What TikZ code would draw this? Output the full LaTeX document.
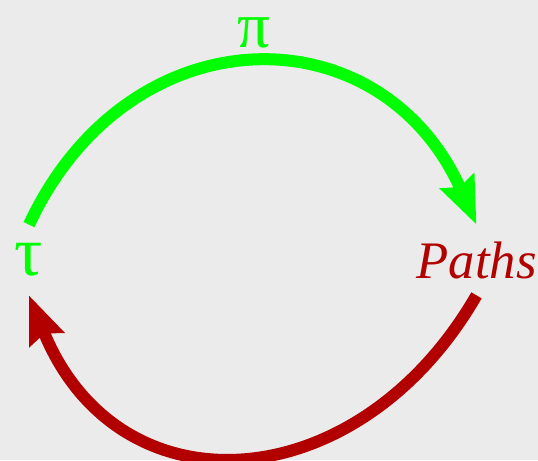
\documentclass[tikz,border=0pt]{standalone}
\usepackage{fontspec}
\setmainfont{Liberation Serif}
\usetikzlibrary{arrows.meta}
\definecolor{bggrey}{RGB}{235,235,235}
\definecolor{pigreen}{RGB}{0,255,0}
\definecolor{pathred}{RGB}{178,0,0}
\begin{document}
\begin{tikzpicture}[
  lbl/.style={inner sep=0pt,minimum height=1.4cm,font=\fontsize{30}{30}\selectfont},
  greek/.style={lbl,text=pigreen,font=\fontsize{40}{40}\selectfont},
  arc/.style={line width=0.24cm,-{Stealth[length=0.94cm,width=0.72cm,inset=0.12cm]}}]
  \fill[bggrey] (0,0) rectangle (10.76,9.2);
  \useasboundingbox (0,0) rectangle (10.76,9.2);
  \node[greek] (tau) at (0.58,4.0){τ};
  \node[lbl,text=pathred] (paths) at (9.53,4.0){\textit{Paths}};
  \node[greek,minimum height=0pt,font=\fontsize{37}{37}\selectfont] (pi) at (5.08,8.54){π};
  \draw[arc,pigreen] (tau.north) to[out=65,in=114,looseness=1.35] (paths.north);
  \draw[arc,pathred] (paths.south) to[out=-120,in=-68,looseness=1.36] (tau.south);
\end{tikzpicture}
\end{document}
